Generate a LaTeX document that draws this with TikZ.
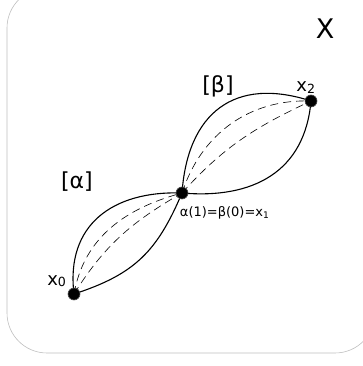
\documentclass[tikz,border=0pt]{standalone}
\usepackage{fontspec}
\setmainfont{DejaVu Sans}
\usetikzlibrary{arrows.meta,positioning}
\newcommand{\lowsub}[1]{\raisebox{-.15ex}{\scalebox{.7}{#1}}}

\begin{document}
\begin{tikzpicture}[x=1pt,y=1pt,font=\small,>=Latex,
  path/.style={line width=1.1pt},
  homot/.style={line width=.6pt,dash pattern=on 8pt off 5pt},
  dot/.style={circle,fill=black,draw=black!70,line width=.6pt,inner sep=0pt,minimum size=12pt}]
 \useasboundingbox (0,0) rectangle (363,366);
 \draw[black!25,line width=.6pt,rounded corners=40pt] (7,13) rectangle (375,378);
 \coordinate (p0) at (74,72);
 \coordinate (p1) at (182,173);
 \coordinate (p2) at (311,265);
 % loop alpha
 \draw[path] (p0) to[out=97,in=178,looseness=1.2] (p1);
 \draw[path] (p0) to[out=18,in=-113,looseness=1.1] (p1);
 \draw[homot] (p0) to[out=80,in=195] (p1);
 \draw[homot] (p0) to[out=58,in=210] (p1);
 % loop beta
 \draw[path] (p1) to[out=86,in=162,looseness=1.3] (p2);
 \draw[path] (p1) to[out=-5,in=-95,looseness=1.15] (p2);
 \draw[homot] (p1) to[out=72,in=178] (p2);
 \draw[homot] (p1) to[out=48,in=205] (p2);
 \foreach \v in {p0,p1,p2}
    \node[dot] (d\v) at (\v) {};
 \node[font=\fontsize{18}{20}\selectfont,above left=-1pt and 0pt of dp0] (lx0) {x\lowsub{0}};
 \node[font=\fontsize{18}{20}\selectfont,above left=0pt and -12pt of dp2] (lx2) {x\lowsub{2}};
 \node[font=\fontsize{13}{15}\selectfont,below right=6pt and -10pt of dp1] (lx1)
   {α(1)=β(0)=x\lowsub{1}};
 \node[font=\fontsize{22}{26}\selectfont] (la) at (77,184) {[α]};
 \node[font=\fontsize{22}{26}\selectfont] (lb) at (218,280) {[β]};
 \node[font=\fontsize{27}{30}\selectfont] (lX) at (325,337) {X};
\end{tikzpicture}
\end{document}
